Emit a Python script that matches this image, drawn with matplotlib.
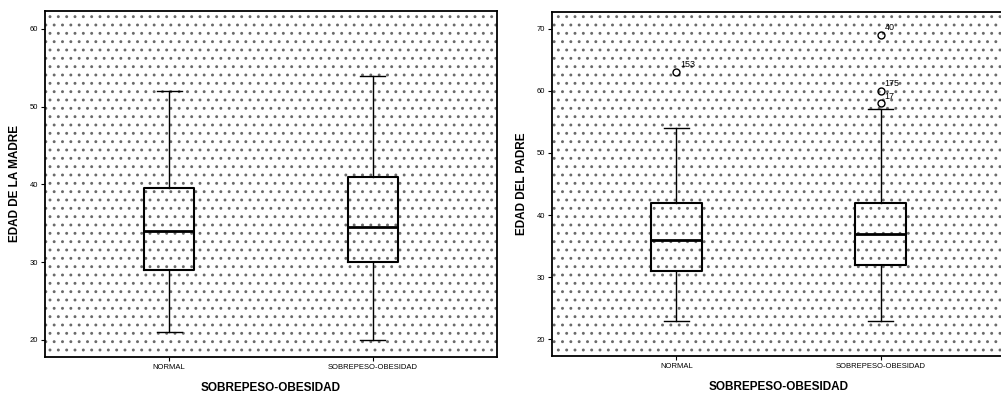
import matplotlib
matplotlib.use("Agg")
import matplotlib.pyplot as plt
from matplotlib.patches import Rectangle

plt.rcParams['font.family'] = ['Liberation Sans', 'DejaVu Sans']
plt.rcParams['hatch.linewidth'] = 0.9

grupos = ["NORMAL", "SOBREPESO-OBESIDAD"]

# edad de la madre: bigote bajo, Q1, mediana, Q3, bigote alto
madre_low = [21, 20]
madre_q1 = [29, 30]
madre_med = [34, 34.5]
madre_q3 = [39.5, 41]
madre_high = [52, 54]
madre_out = [[], []]
madre_out_ids = [[], []]

# edad del padre
padre_low = [23, 23]
padre_q1 = [31, 32]
padre_med = [36, 37]
padre_q3 = [42, 42]
padre_high = [54, 57]
padre_out = [[63], [69, 60, 58]]
padre_out_ids = [["153"], ["40", "175", "17"]]


def stats(low, q1, med, q3, high, out):
    res = []
    for i in range(len(low)):
        res.append({"whislo": low[i], "q1": q1[i], "med": med[i], "q3": q3[i],
                    "whishi": high[i], "fliers": out[i], "label": grupos[i]})
    return res


def dibujar(ax, st, ids, ylabel, ylim, yticks):
    # fondo punteado como en la salida escaneada de SPSS
    fondo = Rectangle((0, 0), 1, 1, transform=ax.transAxes, facecolor="white",
                      edgecolor="#6a6a6a", linewidth=0, hatch="..", zorder=0)
    ax.add_patch(fondo)
    ax.bxp(st, positions=[1, 2], widths=0.246, capwidths=0.123, patch_artist=False,
           boxprops=dict(color="black", linewidth=1.5),
           whiskerprops=dict(color="black", linewidth=1.0),
           capprops=dict(color="black", linewidth=1.0),
           medianprops=dict(color="black", linewidth=2.0),
           flierprops=dict(marker="o", markerfacecolor="none", markeredgecolor="black",
                           markersize=5, markeredgewidth=1.0))
    for i, s in enumerate(st):
        for v, lab in zip(s["fliers"], ids[i]):
            ax.annotate(lab, (i + 1, v), xytext=(3, 2), textcoords="offset points",
                        fontsize=6.5, ha="left", va="bottom")
    ax.set_xlim(0.39, 2.61)
    ax.set_ylim(*ylim)
    ax.set_yticks(yticks)
    ax.set_xticks([1, 2])
    ax.set_xticklabels(grupos)
    ax.tick_params(axis="both", labelsize=5.5, length=3, width=0.8, pad=2)
    ax.set_ylabel(ylabel, fontsize=8.5, fontweight="bold", labelpad=6)
    ax.set_xlabel("SOBREPESO-OBESIDAD", fontsize=8.5, fontweight="bold", labelpad=8)
    for sp in ax.spines.values():
        sp.set_linewidth(1.3)


fig = plt.figure(figsize=(10.01, 3.95), dpi=100)
W, H = 1001, 395
ax1 = fig.add_axes([45 / W, 1 - 357 / H, (497 - 45) / W, (357 - 11) / H])
ax2 = fig.add_axes([552 / W, 1 - 356 / H, (1005 - 552) / W, (356 - 12) / H])

dibujar(ax1, stats(madre_low, madre_q1, madre_med, madre_q3, madre_high, madre_out),
        madre_out_ids, "EDAD DE LA MADRE", (17.8, 62.3), [20, 30, 40, 50, 60])
dibujar(ax2, stats(padre_low, padre_q1, padre_med, padre_q3, padre_high, padre_out),
        padre_out_ids, "EDAD DEL PADRE", (17.3, 72.7), [20, 30, 40, 50, 60, 70])

fig.savefig("out.png", dpi=100)
